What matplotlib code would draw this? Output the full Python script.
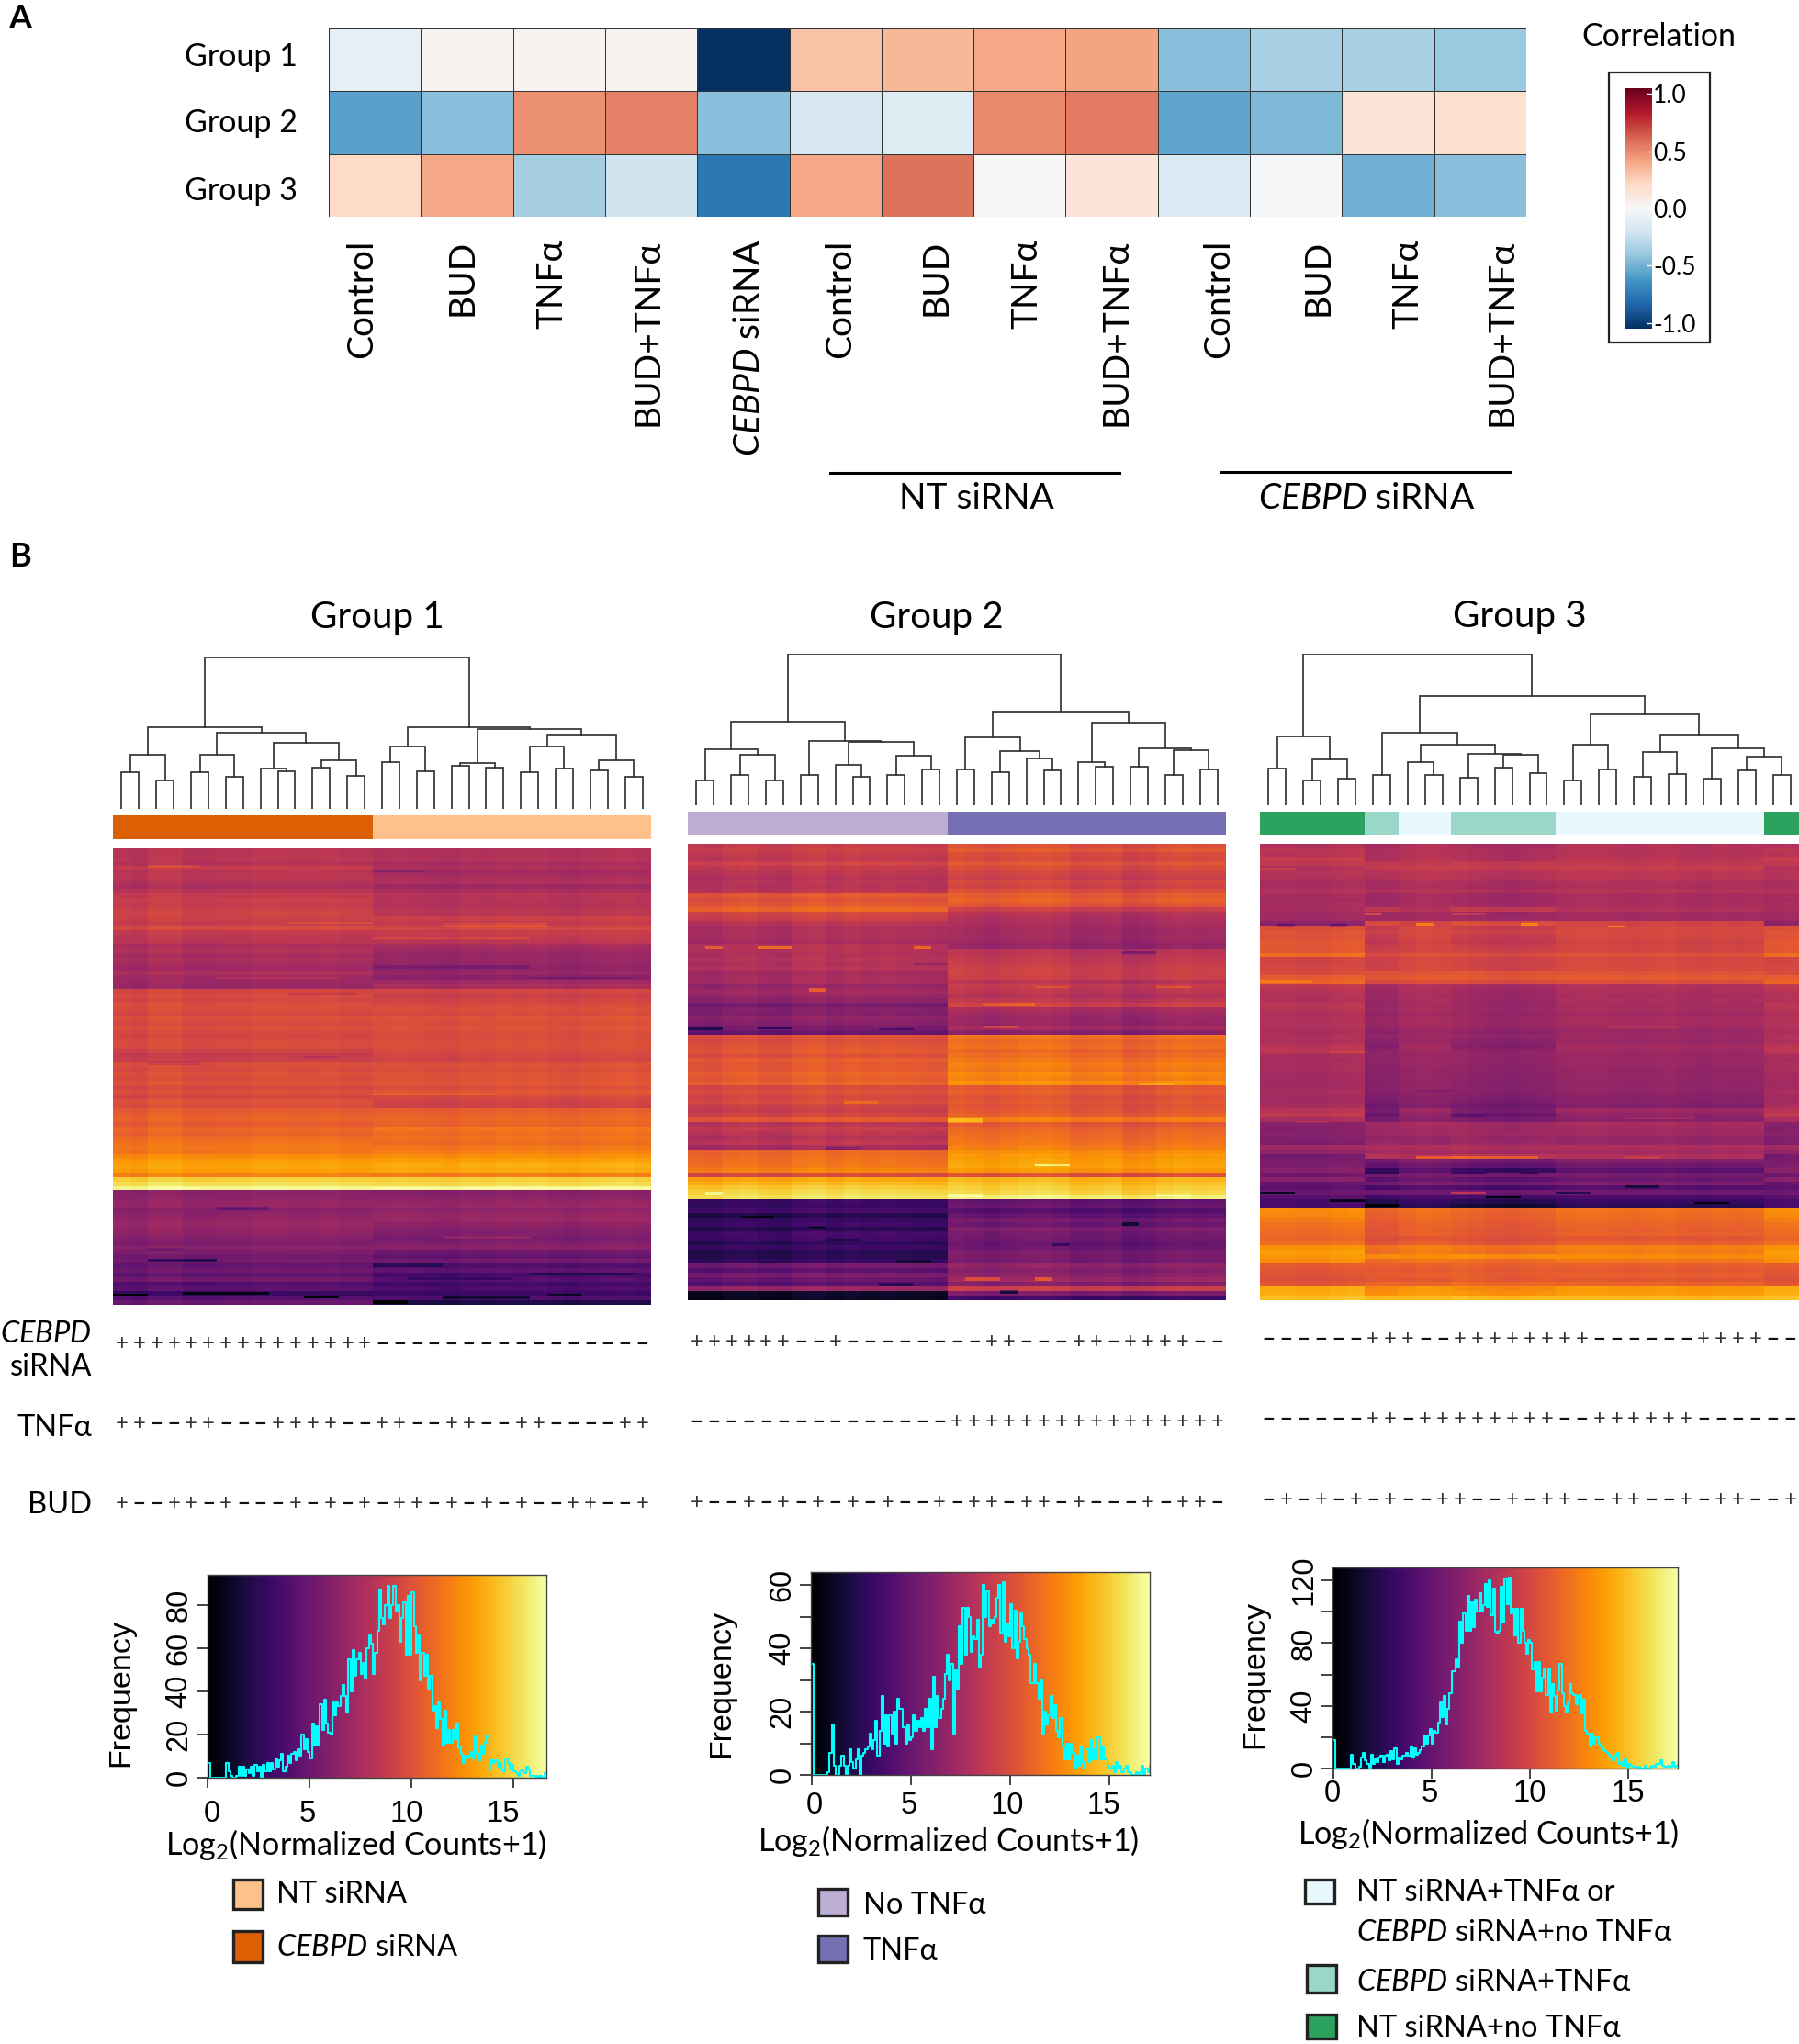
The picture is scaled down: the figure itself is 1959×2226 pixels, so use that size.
import numpy as np
import matplotlib
matplotlib.use("Agg")
import matplotlib.pyplot as plt
from matplotlib.colors import ListedColormap, Normalize
from matplotlib.cm import ScalarMappable
from matplotlib.patches import Rectangle

W, H = 1959, 2226

plt.rcParams['font.family'] = ['Lato', 'DejaVu Sans']
plt.rcParams['mathtext.fontset'] = 'custom'
plt.rcParams['mathtext.rm'] = 'Lato'
plt.rcParams['mathtext.it'] = 'Lato:italic'

# panel A
corr_rows = ["Group 1", "Group 2", "Group 3"]
corr_cols = ["Control", "BUD", "TNFα", "BUD+TNFα", r"$\mathit{CEBPD}$ siRNA", "Control", "BUD", "TNFα", "BUD+TNFα",
             "Control", "BUD", "TNFα", "BUD+TNFα"]
corr_1 = [-0.09, 0.03, 0.03, 0.03, -1.0, 0.29, 0.33, 0.39, 0.4, -0.42, -0.33, -0.33, -0.37]
corr_2 = [-0.54, -0.42, 0.46, 0.5, -0.42, -0.17, -0.14, 0.48, 0.52, -0.53, -0.45, 0.14, 0.16]
corr_3 = [0.2, 0.39, -0.34, -0.21, -0.72, 0.39, 0.54, 0.0, 0.13, -0.15, -0.01, -0.48, -0.42]
corr_label_x = [393, 503, 600, 704, 815, 914, 1018, 1117, 1214, 1326, 1434, 1532, 1634]

# panel B group bars
bar_colors_1 = ["#DC6003", "#FEC18C"]
bar_colors_2 = ["#BCADD3", "#7570B3"]
bar_colors_3 = ["#2CA25F", "#99D8C9", "#E8F8FC"]
bar_1 = [0] * 15 + [1] * 16
bar_2 = [0] * 15 + [1] * 16
bar_3 = [0] * 6 + [1] * 2 + [2] * 3 + [1] * 6 + [2] * 12 + [0] * 2

# signs under heatmaps
sign_1 = ["+++++++++++++++----------------", "++--++---++++--++--++--++----++", "+--++-+---+-+-+-++-+-+-+--++--+"]
sign_2 = ["++++++--+--------++---++-++++--", "---------------++++++++++++++++", "+--+-+-+-+-+--+-++-++-+---+-++-"]
sign_3 = ["------+++--++++++++------++++--", "------++-++++++++--++++++------", "-+-+-+-+--++--+-++--++--+-++--+"]

# row levels of the heatmaps, log2 counts, top to bottom
g1_left = [8.4, 8.3, 8.5, 8.2, 8.9, 8.4, 8.5, 8.2, 7.8, 8.4,
           8.8, 9.1, 8.9, 9.2, 9.4, 9.2, 8.9, 9.8, 8.8, 8.6,
           8.4, 7.8, 8.1, 7.6, 7.9, 7.5, 7.3, 7.8, 7.3, 7.1,
           7.0, 9.6, 9.8, 9.6, 10.0, 9.9, 9.6, 10.1, 9.7, 10.0,
           9.7, 9.5, 9.8, 9.9, 9.3, 8.9, 9.2, 10.0, 9.8, 10.1,
           9.9, 10.2, 9.7, 10.0, 9.6, 10.2, 10.0, 10.6, 10.9, 11.0,
           10.6, 11.2, 11.0, 11.4, 11.6, 11.9, 11.8, 12.6, 13.2, 13.5,
           13.3, 12.2, 15.0, 15.6, 16.6,
           6.4, 6.5, 6.8, 6.9, 6.3, 6.6, 6.9, 7.0, 6.8, 6.6,
           6.2, 5.8, 6.3, 5.9, 5.4, 5.5, 4.8, 5.3, 4.6, 5.4,
           4.0, 4.5, 3.0, 4.2, 5.0]
g1_right = [8.1, 8.0, 8.2, 7.7, 7.9, 7.4, 7.8, 7.9, 7.2, 7.8,
            8.3, 8.2, 8.1, 8.4, 8.4, 9.2, 8.8, 9.6, 9.0, 8.8,
            8.4, 7.6, 7.2, 6.9, 7.0, 6.8, 6.6, 6.9, 6.4, 7.3,
            7.8, 9.5, 9.2, 9.4, 9.8, 10.0, 9.8, 10.2, 10.0, 10.2,
            10.0, 9.8, 10.0, 10.1, 9.8, 9.6, 9.4, 10.2, 10.0, 10.3,
            10.2, 10.4, 10.0, 10.4, 9.7, 9.4, 9.3, 10.8, 11.0, 11.2,
            11.0, 11.8, 11.4, 11.6, 11.4, 11.8, 12.2, 12.8, 13.4, 13.8,
            13.6, 12.0, 15.0, 15.4, 16.6,
            6.2, 6.4, 6.8, 7.0, 6.6, 7.0, 7.0, 6.6, 6.2, 6.0,
            5.6, 6.0, 6.4, 5.2, 4.8, 5.4, 4.0, 4.6, 3.6, 4.2,
            3.4, 3.8, 3.2, 4.0, 2.0]
g2_left = [9.0, 9.2, 8.9, 8.7, 9.4, 8.8, 8.6, 8.2, 8.4, 8.2,
           8.5, 10.6, 10.2, 10.6, 11.2, 9.6, 9.2, 8.4, 7.8, 8.0,
           7.9, 7.6, 8.2, 8.2, 8.0, 8.3, 8.0, 8.2, 7.5, 7.6,
           7.7, 6.9, 7.4, 7.0, 6.6, 5.6, 6.2, 6.0, 6.6, 6.2,
           5.6, 5.0,
           10.2, 10.0, 10.4, 10.6, 10.1, 10.8, 10.5, 10.6, 11.0, 10.7, 11.0,
           9.8, 10.1, 9.6, 9.9, 9.4, 9.0, 9.5,
           10.6,
           8.4, 9.0, 8.5, 8.1, 8.6, 7.6,
           11.2, 11.4, 11.6, 11.8, 12.3,
           9.8,
           13.6, 14.2, 14.8, 15.4, 15.8,
           3.2, 3.0, 3.6, 2.2, 3.0, 3.3, 2.4, 3.6, 3.4, 2.6, 3.2, 2.4, 2.4, 3.0,
           5.5, 4.4, 5.8, 5.0, 4.4,
           7.0, 1.2, 1.0]
g2_right = [10.0, 10.4, 9.8, 9.6, 10.2, 9.8, 9.4, 9.0, 9.6, 9.2,
            10.0, 10.6, 10.8, 10.2, 9.0, 8.2, 7.8, 7.6, 7.4, 7.2,
            7.3, 7.0, 6.8, 8.2, 8.4, 8.6, 8.8, 9.0, 9.2, 9.0,
            8.2, 8.8, 8.4, 8.0, 8.6, 9.2, 7.6, 7.2, 7.0, 6.8,
            7.4, 6.2,
            11.6, 11.2, 11.4, 11.0, 11.3, 11.6, 12.0, 11.8, 12.4, 12.0, 12.6,
            10.4, 10.6, 10.0, 10.4, 10.2, 10.4, 10.8,
            12.0,
            10.4, 11.0, 11.2, 11.4, 11.6, 12.0,
            12.6, 13.0, 13.2, 13.4, 13.0,
            10.0,
            14.0, 14.4, 14.8, 15.2, 16.2,
            4.6, 5.0, 4.0, 4.6, 5.4, 5.0, 5.8, 5.4, 5.2, 4.8, 5.0, 5.6, 5.6, 5.4,
            6.6, 6.0, 6.4, 7.0, 6.0,
            9.0, 5.6, 3.2]
g3_green = [8.0, 8.4, 8.2, 8.8, 8.6, 8.0, 8.2, 8.0, 7.6, 7.6,
            8.0, 7.6, 7.4, 7.6, 7.5, 7.3, 7.2, 6.4,
            9.9, 10.2, 10.1, 10.4, 10.4, 10.4, 11.4, 9.4, 9.4, 9.6, 9.8, 10.6, 11.0, 8.6,
            8.2, 8.0, 8.0, 8.4, 8.2, 7.8, 8.0, 8.0, 7.9, 7.7, 8.0, 7.8, 8.3, 8.4, 7.7, 7.5, 7.6, 7.6, 7.4,
            7.4, 7.3, 7.3, 7.6, 7.4, 7.3, 7.6,
            8.2, 8.6, 7.6,
            6.2, 6.0, 6.2, 6.0, 5.8,
            7.2, 6.6, 5.4, 5.6,
            5.8, 6.2, 5.2, 6.2, 4.8,
            4.4, 5.0, 4.2, 3.6, 3.6,
            12.6, 12.4, 12.0, 11.6, 11.4, 11.2, 11.0, 11.4,
            12.8, 13.2, 13.0, 12.6,
            10.6, 10.4, 10.2, 10.0, 10.4,
            13.6, 13.8, 14.4]
g3_teal = [7.7, 8.0, 7.9, 8.0, 8.8, 9.0, 8.4, 8.2, 7.8, 7.6,
           8.0, 7.4, 7.3, 7.5, 8.8, 7.2, 7.4, 10.0,
           9.0, 9.4, 9.0, 8.8, 9.1, 9.4, 10.0, 9.4, 9.4, 9.5, 10.4, 10.6, 9.9, 7.6,
           7.3, 7.2, 7.2, 7.0, 7.2, 7.0, 7.2, 7.1, 7.0, 6.6, 6.9, 6.5, 6.2, 6.8, 6.8, 6.8, 6.7, 6.6, 6.5,
           6.5, 6.3, 6.5, 6.3, 6.1, 5.8, 5.4,
           5.8, 5.2, 5.8,
           7.4, 7.2, 7.4, 7.0, 7.2,
           8.0, 7.6, 8.4, 5.4,
           4.8, 3.0, 5.6, 4.6, 5.6,
           3.8, 5.4, 3.6, 2.4, 1.6,
           11.2, 11.0, 10.9, 10.7, 10.5, 10.6, 10.2, 10.4,
           11.8, 11.6, 12.8, 11.5,
           11.0, 10.8, 10.9, 10.7, 11.4,
           12.6, 13.0, 14.4]
g3_pale = [8.1, 8.2, 8.2, 8.4, 8.6, 9.0, 8.4, 8.4, 8.0, 7.8,
           8.2, 7.7, 7.6, 7.7, 8.0, 7.4, 7.4, 9.4,
           9.6, 9.7, 9.6, 9.4, 9.5, 9.4, 10.2, 9.6, 9.7, 9.8, 10.2, 10.6, 10.0, 8.0,
           7.8, 7.6, 7.7, 7.5, 7.6, 7.3, 7.6, 7.5, 7.2, 7.0, 7.2, 7.0, 7.4, 7.2, 7.0, 7.1, 7.0, 6.8, 6.8,
           6.8, 6.6, 6.8, 6.6, 6.4, 6.2, 6.0,
           7.2, 6.6, 6.4,
           7.6, 7.4, 7.2, 6.8, 6.8,
           7.8, 7.4, 8.0, 6.0,
           5.2, 4.4, 5.6, 5.0, 5.8,
           4.2, 5.2, 3.8, 3.0, 2.4,
           11.6, 11.4, 11.2, 11.0, 10.8, 10.9, 10.4, 10.8,
           12.2, 12.0, 12.6, 11.8,
           10.8, 10.6, 10.8, 10.5, 11.0,
           13.0, 13.2, 14.2]

# how far each column sits from its block
g1_shift = [0.0, -0.2, 0.3, 0.3, -0.1, -0.1, 0.0, 0.0, 0.2, 0.2, 0.1, 0.1, 0.2, 0.0, 0.0,
            0.0, 0.1, 0.0, -0.1, -0.2, 0.1, 0.0, 0.2, 0.1, 0.2, 0.0, -0.1, 0.1, 0.2, 0.3, 0.1]
g2_shift = [-0.3, -0.4, 0.0, 0.1, -0.2, -0.3, 0.2, 0.4, 0.0, 0.3, 0.1, 0.2, 0.1, 0.0, -0.1,
            0.4, 0.2, -0.1, 0.2, 0.4, 0.5, 0.3, -0.2, -0.1, 0.1, -0.5, -0.3, 0.1, 0.3, 0.1, 0.2]
g3_shift = [0.1, 0.1, 0.0, 0.0, 0.2, 0.3, -0.2, -0.1, 0.0, 0.2, 0.1, 0.2, 0.0, -0.2, -0.3, -0.1, 0.0,
            0.1, 0.2, 0.2, 0.1, 0.0, 0.1, 0.2, 0.0, -0.1, 0.1, 0.0, 0.1, 0.1, 0.2]

# thin streaks on the 400 fine rows: row, rows high, first column, last column, change
g1_streak = [(15, 3, 2, 5, 1.0), (19, 3, 15, 18, -1.2), (65, 2, 10, 15, 1.2), (66, 3, 19, 25, 1.0),
             (78, 3, 15, 24, 0.8), (103, 3, 15, 20, -0.8), (103, 3, 20, 24, -1.0), (113, 2, 24, 30, -1.0),
             (113, 2, 6, 13, 0.8), (127, 2, 10, 14, -1.0), (182, 3, 11, 13, -0.7), (187, 3, 2, 5, -1.0),
             (215, 2, 15, 22, 1.0), (297, 2, 15, 31, 0.4), (297, 2, 2, 5, 0.4), (315, 2, 6, 9, -1.5),
             (350, 3, 2, 4, -1.0), (360, 2, 2, 6, -3.0), (372, 2, 24, 30, -1.5), (376, 2, 17, 23, -1.2),
             (390, 2, 0, 2, -3.5), (389, 2, 4, 9, -2.5), (392, 2, 11, 13, -4.0), (396, 3, 15, 17, -2.5),
             (392, 3, 19, 24, -2.5), (390, 2, 25, 27, -2.0), (364, 3, 15, 19, -1.5), (340, 2, 19, 24, 1.2)]
g2_streak = [(90, 2, 1, 2, 3.0), (90, 2, 4, 6, 3.5), (90, 2, 13, 14, 3.0), (127, 3, 7, 8, 3.0),
             (161, 3, 0, 2, -3.0), (161, 2, 4, 6, -2.5), (162, 2, 11, 13, -2.0), (95, 2, 25, 27, -2.0),
             (140, 3, 17, 20, 1.5), (160, 2, 17, 19, 2.0), (241, 4, 15, 17, 2.0), (266, 2, 8, 10, -1.5),
             (281, 2, 20, 22, 2.5), (305, 3, 1, 2, 1.5), (307, 3, 15, 17, 1.0), (307, 2, 27, 29, 0.6),
             (332, 3, 25, 26, -3.0), (346, 2, 8, 10, -1.5), (366, 2, 4, 5, -1.0), (380, 3, 16, 18, 3.0),
             (380, 3, 20, 21, 3.0), (391, 3, 18, 19, -4.0), (326, 2, 3, 5, -1.5), (335, 2, 7, 8, -1.5),
             (350, 3, 21, 22, -2.0), (385, 3, 11, 13, -2.0), (365, 3, 12, 14, -1.5), (125, 2, 20, 22, 1.0),
             (125, 2, 27, 29, 1.5), (105, 2, 13, 15, -1.0), (226, 2, 9, 11, 1.2), (210, 2, 26, 28, 1.0)]
g3_streak = [(22, 2, 0, 2, 1.0), (61, 2, 6, 7, 3.0), (61, 2, 11, 13, 1.5), (70, 2, 9, 10, 2.5), (70, 2, 15, 16, 2.5),
             (71, 2, 1, 2, -1.8), (71, 2, 4, 5, -1.8), (72, 2, 20, 21, 2.5), (120, 3, 0, 3, 1.0),
             (274, 2, 9, 16, 2.5), (288, 2, 6, 8, -3.0), (288, 2, 11, 13, -3.0), (288, 2, 15, 16, -3.0),
             (305, 2, 0, 2, -4.0), (312, 2, 4, 6, -3.0), (305, 2, 11, 13, 3.0), (309, 2, 13, 15, -3.0),
             (305, 2, 17, 19, -3.0), (316, 2, 6, 8, -2.0), (160, 2, 20, 24, 0.9), (182, 2, 4, 6, 0.8),
             (216, 2, 9, 11, -0.8), (237, 2, 11, 13, -0.8), (243, 2, 2, 4, 0.8), (240, 2, 21, 25, 1.0),
             (300, 2, 21, 23, -2.5), (314, 2, 25, 27, -2.5), (274, 2, 21, 23, 1.0)]

# dendrograms: (height, left, right), L is a leaf
L = None
tree_1 = (100,
          (54,
           (36, (24, L, L), (19, L, L)),
           (50,
            (36, (24, L, L), (21, L, L)),
            (43.5,
             (26.5, L, (25, L, L)),
             (32, (27, L, L), (22, L, L))))),
          (54,
           (41, (31, L, L), (25, L, L)),
           (52.5,
            (30, (28.4, L, L), (27, L, L)),
            (49,
             (41, (24, L, L), (26.5, L, L)),
             (32, (25.6, L, L), (21, L, L))))))
tree_2 = (100,
          (55,
           (37, (16.6, L, L), (33.5, (20, L, L), (16.3, L, L))),
           (42.5,
            (20, L, L),
            (42,
             (26.5, L, (18.5, L, L)),
             (32.5, (19.8, L, L), (23.8, L, L))))),
          (62,
           (45,
            (23.5, L, L),
            (35.5,
             (22, L, L),
             (31, L, (23, L, L)))),
           (54.5,
            (28.4, L, (25.3, L, L)),
            (37.3,
             (25.6, L, L),
             (36.4, (19.8, L, L), (23.8, L, L))))))
tree_3 = (100,
          (45.7,
           (24.2, L, L),
           (30, (16.6, L, L), (17.5, L, L))),
          (72,
           (47.8,
            (20, L, L),
            (39.8,
             (28.7, L, (19.8, L, L)),
             (34,
              (18, L, L),
              (33.6, (24.7, L, L), (21, L, L))))),
           (60,
            (40, (16.6, L, L), (23.5, L, L)),
            (46.6,
             (35, (18.5, L, L), (20.4, L, L)),
             (37.6,
              (17.3, L, L),
              (32.4, (22.8, L, L), (19.8, L, L)))))))

# histograms, one value per 0.1 log2 unit
hist_1 = [7, 0, 0, 0, 0, 0, 0, 0, 0, 7,
          3, 1, 0, 0, 1, 5, 1, 5, 1, 4,
          2, 5, 1, 6, 3, 5, 0, 6, 3, 7,
          3, 7, 4, 9, 5, 8, 11, 3, 5, 10,
          7, 11, 12, 8, 13, 10, 20, 13, 18, 12,
          9, 25, 15, 24, 15, 34, 22, 36, 25, 21,
          20, 35, 29, 35, 33, 38, 43, 38, 30, 55,
          40, 59, 47, 55, 58, 48, 53, 46, 60, 66,
          62, 48, 58, 68, 87, 74, 71, 80, 89, 74,
          80, 89, 77, 80, 63, 74, 81, 57, 84, 57,
          86, 70, 58, 66, 45, 58, 47, 57, 41, 47,
          31, 33, 23, 35, 27, 15, 31, 16, 22, 16,
          22, 18, 25, 14, 11, 7, 10, 9, 10, 12,
          9, 19, 11, 8, 15, 11, 16, 19, 4, 8,
          7, 8, 5, 7, 4, 3, 9, 7, 4, 6,
          3, 2, 1, 3, 4, 2, 5, 4, 1, 1,
          0, 1, 0, 1, 0, 2]
hist_2 = [35, 0, 0, 0, 0, 0, 0, 0, 1, 7,
          16, 3, 0, 0, 3, 6, 3, 0, 3, 8,
          4, 2, 5, 8, 0, 6, 7, 8, 9, 13,
          8, 11, 17, 6, 14, 25, 10, 19, 9, 19,
          13, 20, 10, 24, 21, 21, 15, 10, 16, 11,
          12, 19, 14, 17, 15, 18, 14, 21, 15, 24,
          8, 31, 15, 25, 18, 21, 24, 32, 38, 30,
          35, 13, 33, 27, 47, 35, 53, 38, 53, 50,
          39, 44, 43, 49, 34, 38, 60, 50, 58, 47,
          49, 48, 50, 56, 60, 45, 61, 42, 48, 44,
          54, 40, 52, 37, 42, 51, 47, 43, 40, 38,
          29, 29, 35, 29, 24, 30, 13, 20, 16, 19,
          25, 18, 22, 14, 12, 18, 9, 5, 10, 5,
          10, 7, 2, 6, 3, 9, 4, 2, 8, 4,
          11, 5, 8, 5, 12, 5, 9, 5, 5, 3,
          2, 3, 1, 4, 2, 3, 1, 2, 3, 1,
          1, 0, 0, 1, 0, 1, 3, 0, 2, 1, 3]
hist_3 = [18, 0, 0, 0, 0, 0, 0, 0, 0, 9,
          3, 0, 0, 1, 7, 10, 5, 3, 0, 9,
          3, 6, 4, 7, 8, 4, 8, 9, 5, 11,
          6, 13, 3, 7, 6, 8, 8, 10, 8, 14,
          7, 13, 9, 10, 12, 14, 21, 16, 21, 25,
          16, 24, 23, 29, 42, 33, 46, 28, 38, 48,
          62, 62, 70, 65, 94, 80, 99, 88, 110, 88,
          106, 90, 108, 100, 112, 100, 104, 118, 103, 120,
          98, 115, 87, 86, 88, 116, 93, 121, 105, 122,
          99, 102, 85, 102, 80, 102, 88, 80, 73, 82,
          80, 63, 68, 49, 68, 49, 58, 63, 47, 64,
          36, 54, 46, 37, 50, 67, 48, 40, 36, 42,
          54, 48, 47, 41, 46, 47, 35, 44, 24, 22,
          14, 22, 16, 20, 20, 16, 14, 12, 11, 10,
          9, 7, 5, 8, 10, 3, 4, 2, 6, 0,
          3, 2, 1, 1, 0, 1, 0, 0, 2, 0,
          0, 1, 2, 1, 3, 3, 5, 2, 1, 1,
          2, 1, 4, 1, 2]


def ax_at(left, top, right, bottom):
    return plt.gcf().add_axes([left / W, 1 - bottom / H, (right - left) / W, (bottom - top) / H])


def put(x, y, s, size, **kw):
    kw.setdefault("ha", "center")
    kw.setdefault("va", "center")
    if "rotation" not in kw:
        y += 2.5
    plt.gcf().text(x / W, 1 - y / H, s, fontsize=size, **kw)


def draw_tree(ax, node, leaf):
    if node is None:
        leaf[0] += 1
        return leaf[0] - 0.5, 0
    x1, h1 = draw_tree(ax, node[1], leaf)
    x2, h2 = draw_tree(ax, node[2], leaf)
    ax.plot([x1, x1, x2, x2], [h1, node[0], node[0], h2], color="#333333", lw=1.25, solid_joinstyle="miter")
    return (x1 + x2) / 2, node[0]


def heat_panel(box, tree, bar, bar_colors, profiles, blocks, shift, streaks):
    left, right, tree_top, tree_bottom, bar_top, bar_bottom, top, bottom = box
    ax = ax_at(left, tree_top, right, tree_bottom)
    draw_tree(ax, tree, [0])
    ax.set_xlim(0, 31)
    ax.set_ylim(0, 100)
    ax.axis("off")

    ax = ax_at(left, bar_top, right, bar_bottom)
    ax.imshow([bar], cmap=ListedColormap(bar_colors), aspect="auto", interpolation="nearest",
              vmin=0, vmax=len(bar_colors) - 1)
    ax.axis("off")

    matrix = np.array([profiles[b] for b in blocks]).T + np.array(shift)
    matrix = np.repeat(matrix, 4, axis=0)
    for row, rows, c0, c1, change in streaks:
        matrix[row:row + rows, c0:c1] += change
    ax = ax_at(left, top, right, bottom)
    ax.imshow(matrix, cmap="inferno", vmin=0, vmax=17, aspect="auto", interpolation="nearest")
    ax.axis("off")


def signs_row(left, right, y, signs):
    step = (right - left) / 31
    for i, s in enumerate(signs):
        x = left + step * (i + 0.5)
        if s == "+":
            put(x, y, "+", 17, color="#333333")
        else:
            put(x, y, "\u2212", 17, color="#111111", fontweight="bold")


def hist_panel(box, x0, per_unit, y_per, values, yticks, ylabels, xlabel_pos, freq_pos, xlab_x, xlab_y):
    left, top, right, bottom = box
    ax = ax_at(left, top, right, bottom)
    xmin = (left - x0) / per_unit
    xmax = (right - x0) / per_unit
    ymax = (bottom - top) / y_per
    key = np.linspace(0, 1, 256)[None, :]
    ax.imshow(key, cmap="inferno", aspect="auto", extent=[xmin, xmax, 0, ymax], interpolation="bilinear")
    ax.step(np.arange(len(values)) * 0.1 + 0.05, values, where="mid", color="#00FFFF", lw=1.5)
    ax.set_xlim(xmin, xmax)
    ax.set_ylim(0, ymax)
    ax.set_xticks([0, 5, 10, 15])
    ax.set_xticklabels([])
    ax.set_yticks(yticks)
    ax.set_yticklabels(ylabels, rotation=90, va="center", family="Liberation Sans", fontsize=23.5)
    ax.tick_params(axis="x", length=8, width=1.2, color="#222222")
    ax.tick_params(axis="y", length=9, width=1.2, pad=2, color="#222222")
    for sp in ax.spines.values():
        sp.set_color("#444444")
        sp.set_linewidth(1.0)
    for x, name in zip(xlab_x, ["0", "5", "10", "15"]):
        put(x, xlab_y, name, 23.5, family="Liberation Sans")
    put(xlabel_pos[0], xlabel_pos[1], "Log$_2$(Normalized Counts+1)", 24.6)
    put(freq_pos[0], freq_pos[1], "Frequency", 24.5, rotation=90, family="Liberation Sans")


def swatch(left, top, right, bottom, color):
    plt.gcf().add_artist(Rectangle((left / W, 1 - bottom / H), (right - left) / W, (bottom - top) / H,
                                   transform=plt.gcf().transFigure, facecolor=color,
                                   edgecolor="#222222", lw=2.4))


fig = plt.figure(figsize=(W / 100, H / 100), dpi=100)

put(22, 18, "A", 26, fontweight="bold")
put(22, 604, "B", 26, fontweight="bold")

# correlation heatmap
ax = ax_at(358, 31, 1662, 236)
mesh = ax.pcolormesh(np.array([corr_1, corr_2, corr_3]), cmap="RdBu_r", vmin=-1, vmax=1,
                     edgecolors="#333333", linewidth=0.7)
ax.set_ylim(3, 0)
ax.axis("off")
for y, name in zip([60, 132, 206], corr_rows):
    put(324, y, name, 24.5, ha="right")
for x, name in zip(corr_label_x, corr_cols):
    put(x + 1, 261, name, 28, rotation=90, va="top")

put(1806, 38, "Correlation", 24.5)
cax = ax_at(1770, 96, 1799, 358)
cbar = fig.colorbar(ScalarMappable(Normalize(-1.05, 1.05), "RdBu_r"), cax=cax)
cbar.set_ticks([-1, -0.5, 0, 0.5, 1])
cbar.set_ticklabels(["-1.0", "-0.5", "0.0", "0.5", "1.0"])
cbar.outline.set_visible(False)
cax.tick_params(direction="in", length=4, width=1, color="white", labelsize=19, pad=1)
fig.add_artist(Rectangle((1752 / W, 1 - 373 / H), 110 / W, 294 / H, transform=fig.transFigure,
                         fill=False, edgecolor="#222222", lw=1.6))

fig.add_artist(plt.Line2D([904 / W, 1219 / W], [1 - 515 / H, 1 - 515 / H], color="black", lw=2.2))
fig.add_artist(plt.Line2D([1329 / W, 1644 / W], [1 - 514 / H, 1 - 514 / H], color="black", lw=2.2))
put(1063, 541, "NT siRNA", 28)
put(1488, 540, r"$\mathit{CEBPD}$ siRNA", 28)

# the three clustered heatmaps
heat_panel((123, 709, 716, 881, 888, 914, 923, 1421), tree_1, bar_1, bar_colors_1, [g1_left, g1_right],
           bar_1, g1_shift, g1_streak)
heat_panel((749, 1335, 712, 877, 884, 909, 919, 1416), tree_2, bar_2, bar_colors_2, [g2_left, g2_right],
           bar_2, g2_shift, g2_streak)
heat_panel((1372, 1959, 712, 877, 884, 909, 919, 1416), tree_3, bar_3, bar_colors_3, [g3_green, g3_teal, g3_pale],
           bar_3, g3_shift, g3_streak)
put(411, 670, "Group 1", 29)
put(1020, 670, "Group 2", 29)
put(1655, 669, "Group 3", 29)

put(100, 1451, r"$\mathit{CEBPD}$", 23.5, ha="right")
put(100, 1486, "siRNA", 23.5, ha="right")
put(100, 1552, "TNFα", 23.5, ha="right")
put(100, 1636, "BUD", 23.5, ha="right")

for y, signs in zip([1461, 1548, 1635], sign_1):
    signs_row(123, 709, y, signs)
for y, signs in zip([1459, 1546, 1634], sign_2):
    signs_row(749, 1335, y, signs)
for y, signs in zip([1456, 1543, 1631], sign_3):
    signs_row(1372, 1959, y, signs)

hist_panel((226, 1715, 595, 1936), 226.3, 22.2, 2.353, hist_1, [0, 20, 40, 60, 80],
           ["0", "20", "40", "60", "80"], (388, 2006), (132, 1843), [231, 335, 443, 548], 1973)
hist_panel((883, 1712, 1252, 1933), 884, 21.63, 3.443, hist_2, [0, 10, 20, 30, 40, 50, 60],
           ["0", "", "20", "", "40", "", "60"], (1033, 2003), (786, 1834), [887, 990, 1097, 1202], 1964)
hist_panel((1451, 1707, 1827, 1926), 1452, 21.43, 1.707, hist_3, [0, 20, 40, 60, 80, 100, 120],
           ["0", "", "40", "", "80", "", "120"], (1621, 1995), (1367, 1824), [1451, 1557, 1666, 1773], 1951)

# legends
swatch(254, 2047, 286, 2079, bar_colors_1[1])
swatch(254, 2103, 286, 2137, bar_colors_1[0])
put(301, 2061, "NT siRNA", 23.5, ha="left")
put(301, 2118, r"$\mathit{CEBPD}$ siRNA", 23.5, ha="left")
swatch(891, 2057, 923, 2086, bar_colors_2[0])
swatch(891, 2108, 923, 2137, bar_colors_2[1])
put(940, 2073, "No TNFα", 23.5, ha="left")
put(940, 2122, "TNFα", 23.5, ha="left")
swatch(1421, 2047, 1453, 2073, bar_colors_3[2])
swatch(1423, 2140, 1455, 2170, bar_colors_3[1])
swatch(1423, 2194, 1455, 2220, bar_colors_3[0])
put(1477, 2058, "NT siRNA+TNFα or", 23.5, ha="left")
put(1477, 2103, r"$\mathit{CEBPD}$ siRNA+no TNFα", 23.5, ha="left")
put(1477, 2157, r"$\mathit{CEBPD}$ siRNA+TNFα", 23.5, ha="left")
put(1477, 2206, "NT siRNA+no TNFα", 23.5, ha="left")

fig.savefig("out.png", dpi=100)
